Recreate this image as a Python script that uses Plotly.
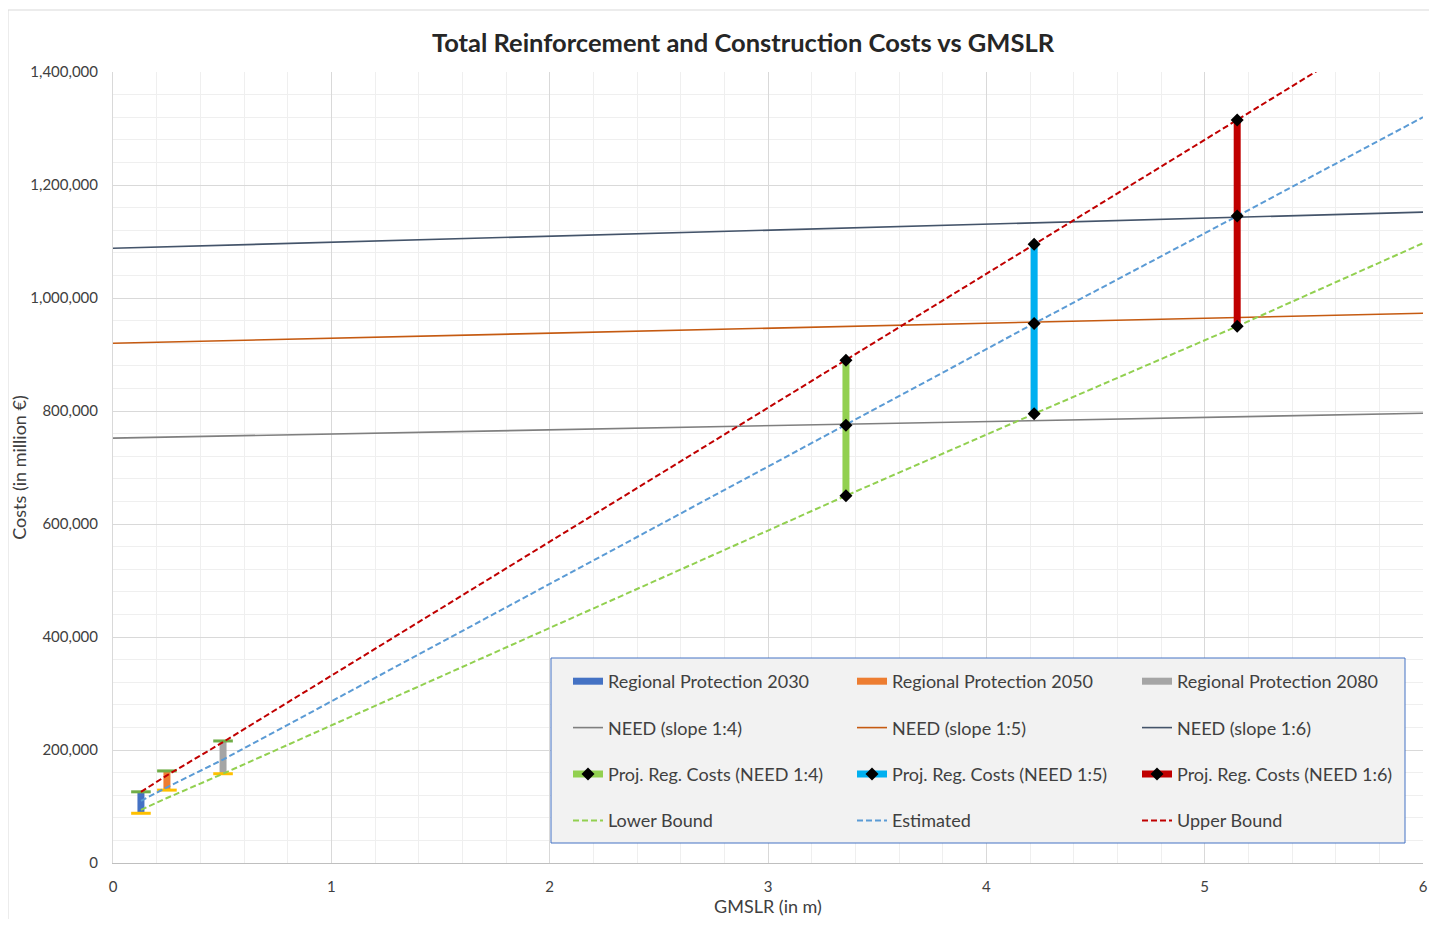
import plotly.graph_objects as go

# ---------------- data ----------------
rp_names = ["Regional Protection 2030", "Regional Protection 2050", "Regional Protection 2080"]
rp_x = [0.128, 0.247, 0.504]
rp_low = [88000, 129000, 158000]
rp_high = [126000, 163000, 216000]

need_names = ["NEED (slope 1:4)", "NEED (slope 1:5)", "NEED (slope 1:6)"]
need_x = [0, 6]
need_14 = [752000, 796000]
need_15 = [920000, 973000]
need_16 = [1088000, 1152000]

proj_names = ["Proj. Reg. Costs (NEED 1:4)", "Proj. Reg. Costs (NEED 1:5)", "Proj. Reg. Costs (NEED 1:6)"]
proj_x = [3.357, 4.219, 5.149]
proj_14 = [650000, 775000, 890000]
proj_15 = [795000, 955000, 1095000]
proj_16 = [950000, 1145000, 1315000]

bound_names = ["Lower Bound", "Estimated", "Upper Bound"]
bound_x = [0.128, 0.247, 0.504, 3.357, 4.219, 5.149, 6.0]
lower_b = [94000, 115000, 158000, 650000, 795000, 950000, 1097000]
estim_b = [110000, 134000, 183000, 775000, 955000, 1145000, 1320000]
upper_b = [126000, 155000, 214000, 890000, 1095000, 1315000, 1517000]

x_ticks = [0, 1, 2, 3, 4, 5, 6]
y_ticks = [0, 200000, 400000, 600000, 800000, 1000000, 1200000, 1400000]

# ---------------- styles ----------------
FONT = "Lato"
rp_colors = ["#4472C4", "#ED7D31", "#A5A5A5"]
need_colors = ["#7F7F7F", "#C55A11", "#44546A"]
proj_colors = ["#92D050", "#00B0F0", "#C00000"]
bound_colors = ["#92D050", "#5B9BD5", "#C00000"]
legends = ["legend", "legend2", "legend3"]

fig = go.Figure()

for i in range(3):
    fig.add_trace(go.Scatter(
        x=[rp_x[i], rp_x[i]], y=[rp_low[i], rp_high[i]], mode="lines",
        line=dict(color=rp_colors[i], width=7), name=rp_names[i],
        legend=legends[i], legendgroup="rp%d" % i, legendrank=1))
    fig.add_trace(go.Scatter(
        x=[rp_x[i]], y=[rp_high[i]], mode="markers", showlegend=False,
        marker=dict(symbol="line-ew", size=14, line=dict(color="#70AD47", width=3))))
    fig.add_trace(go.Scatter(
        x=[rp_x[i]], y=[rp_low[i]], mode="markers", showlegend=False,
        marker=dict(symbol="line-ew", size=14, line=dict(color="#FFC000", width=3))))

for i, ys in enumerate([need_14, need_15, need_16]):
    fig.add_trace(go.Scatter(
        x=need_x, y=ys, mode="lines", line=dict(color=need_colors[i], width=1.6),
        name=need_names[i], legend=legends[i], legendgroup="need%d" % i, legendrank=2))

for i, ys in enumerate([lower_b, estim_b, upper_b]):
    fig.add_trace(go.Scatter(
        x=bound_x, y=ys, mode="lines",
        line=dict(color=bound_colors[i], width=2, dash="6px,3px"),
        name=bound_names[i], legend=legends[i], legendgroup="bound%d" % i, legendrank=4))

for i, ys in enumerate([proj_14, proj_15, proj_16]):
    fig.add_trace(go.Scatter(
        x=[proj_x[i]] * 3, y=ys, mode="lines+markers",
        line=dict(color=proj_colors[i], width=7),
        marker=dict(symbol="diamond", size=10, color="black"),
        name=proj_names[i], legend=legends[i], legendgroup="proj%d" % i, legendrank=3))

# ---------------- layout ----------------
# page has an 8px body margin: work in page pixels and convert
OFF = 8
W, H = 1437 - 2 * OFF, 927 - 2 * OFF
PL, PR, PT, PB = 113, 1423, 72, 863  # plot area in page pixels
L = PL - OFF
T = PT - OFF
R = W - (PR - OFF)
B = H - (PB - OFF)
pw, ph = PR - PL, PB - PT


def px_x(p):
    return (p - PL) / pw


def px_y(p):
    return (PB - p) / ph


leg_common = dict(bgcolor="rgba(0,0,0,0)", borderwidth=0, orientation="v",
                  font=dict(family=FONT, size=18, color="#404040"),
                  tracegroupgap=20, xanchor="left", yanchor="top",
                  traceorder="grouped")
fig.update_layout(
    width=W, height=H,
    margin=dict(l=L, r=R, t=T, b=B, autoexpand=False),
    paper_bgcolor="white", plot_bgcolor="white",
    font=dict(family=FONT, color="#595959"),
    title=dict(text="<b>Total Reinforcement and Construction Costs vs GMSLR</b>",
               x=px_x(743), xref="paper", xanchor="center",
               y=1 - (43 - OFF) / H, yanchor="middle",
               font=dict(family=FONT, size=25.5, color="#262626")),
    legend=dict(x=px_x(568), y=px_y(663), **leg_common),
    legend2=dict(x=px_x(852), y=px_y(663), **leg_common),
    legend3=dict(x=px_x(1137), y=px_y(663), **leg_common),
    showlegend=True,
    shapes=[
        dict(type="rect", xref="paper", yref="paper",
             x0=px_x(8), x1=px_x(1460), y0=px_y(950), y1=px_y(10),
             line=dict(color="#D9D9D9", width=1), fillcolor="rgba(0,0,0,0)", layer="below"),
        dict(type="rect", xref="paper", yref="paper",
             x0=px_x(551), x1=px_x(1405), y0=px_y(843), y1=px_y(658),
             line=dict(color="#4472C4", width=1), fillcolor="#F2F2F2", layer="above"),
    ],
)

fig.update_xaxes(
    range=[0, 6], tickvals=x_ticks, ticktext=[str(v) for v in x_ticks],
    showgrid=True, gridcolor="#D9D9D9", gridwidth=1,
    minor=dict(dtick=0.2, showgrid=True, gridcolor="#EFEFEF", gridwidth=1),
    showline=True, linecolor="#BFBFBF", linewidth=1, mirror=False,
    zeroline=False, ticks="", ticklabelstandoff=10, automargin=True,
    tickfont=dict(family=FONT, size=15, color="#404040"),
    title=dict(text="GMSLR (in m)", font=dict(family=FONT, size=18, color="#404040"), standoff=6),
)
fig.update_yaxes(
    range=[0, 1400000], tickvals=y_ticks, tickformat=",d",
    showgrid=True, gridcolor="#D9D9D9", gridwidth=1,
    minor=dict(dtick=40000, showgrid=True, gridcolor="#EFEFEF", gridwidth=1),
    showline=True, linecolor="#D9D9D9", linewidth=1,
    zeroline=False, ticks="", ticklabelstandoff=11, automargin=True,
    tickfont=dict(family=FONT, size=15, color="#404040"),
    title=dict(text="Costs (in million €)", font=dict(family=FONT, size=18, color="#404040"), standoff=0),
)

fig.write_html("out.html")
